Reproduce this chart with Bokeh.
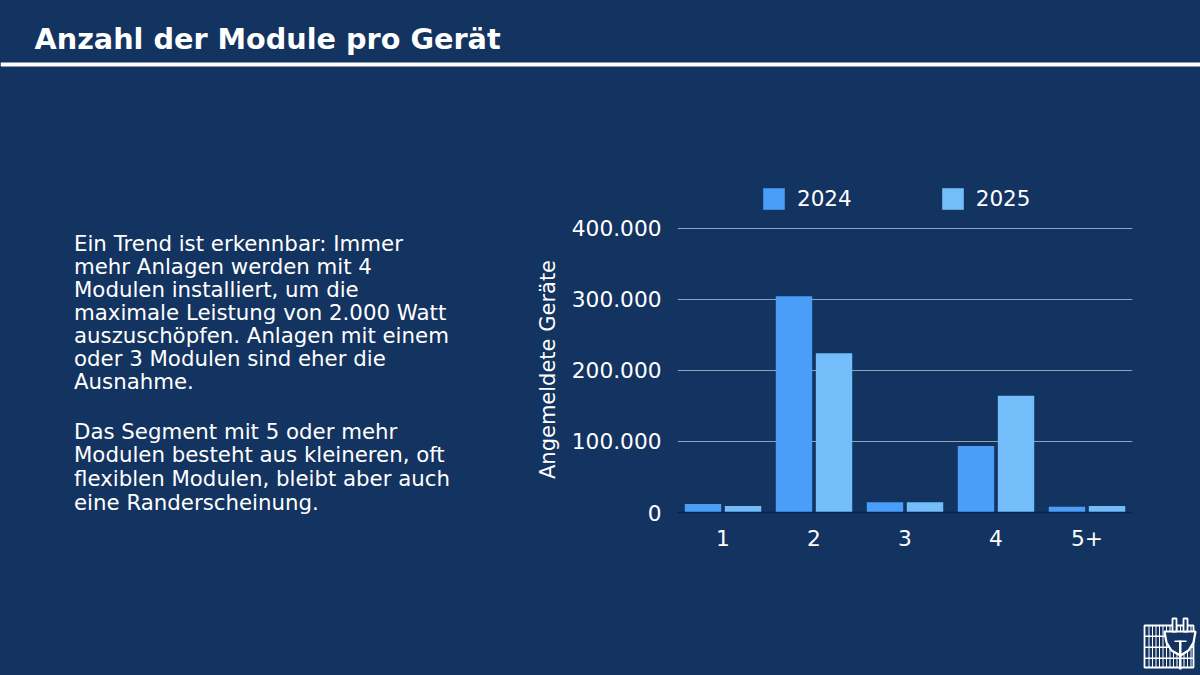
from bokeh.embed import file_html
from bokeh.resources import INLINE
from bokeh.plotting import figure
from bokeh.layouts import column, row
from bokeh.models import (ColumnDataSource, FactorRange, Range1d, Label, BoxAnnotation, PolyAnnotation,
                          Legend, LegendItem, FixedTicker, GlobalInlineStyleSheet)
from bokeh.transform import dodge
import math

categories = ["1", "2", "3", "4", "5+"]
values_2024 = [12000, 304000, 14500, 93500, 8000]
values_2025 = [9000, 224000, 14500, 164000, 9000]
y_ticks = [0, 100000, 200000, 300000, 400000]
y_tick_labels = ["0", "100.000", "200.000", "300.000", "400.000"]
title_text = "Anzahl der Module pro Gerät"
y_title = "Angemeldete Geräte"
para_lines = [
    "Ein Trend ist erkennbar: Immer", "mehr Anlagen werden mit 4", "Modulen installiert, um die",
    "maximale Leistung von 2.000 Watt", "auszuschöpfen. Anlagen mit einem", "oder 3 Modulen sind eher die",
    "Ausnahme.",
]
para2_lines = [
    "Das Segment mit 5 oder mehr", "Modulen besteht aus kleineren, oft",
    "flexiblen Modulen, bleibt aber auch", "eine Randerscheinung.",
]

BG = "#133360"
C24 = "#4a9ef8"
C25 = "#74bdfb"
FONT = "DejaVu Sans"
W, H = 1200, 675
HEAD = 70      # header strip height
FOOT = 65      # footer strip height
LEFT = 560     # text column width
MID = H - HEAD - FOOT
TOP_PX = 180   # top of the chart frame, which reaches up to the legend
BASE_PX = 512  # bottom of the chart frame
CSS = f"html,body{{margin:0;padding:0;background:{BG};overflow:hidden}}"


def panel(w, h, y0, y1):
    """A blank strip; data y is the picture's y between y0 and y1."""
    f = figure(width=w, height=h, output_backend="svg", toolbar_location=None,
               x_range=Range1d(0, w), y_range=Range1d(y1, y0),
               min_border=0, background_fill_color=BG, border_fill_color=BG, outline_line_color=None)
    f.axis.visible = False
    f.grid.visible = False
    return f


def text(f, t, x, y, size="21.3px", style="normal", angle=0.0, align="left"):
    f.add_layout(Label(x=x, y=y, text=t, text_color="white", text_font=FONT, text_font_size=size,
                       text_font_style=style, text_baseline="middle", text_align=align, angle=angle))


# header
head = panel(W, HEAD, 0, HEAD)
text(head, title_text, 34, 38, "28.7px", "bold")
head.add_layout(BoxAnnotation(left=0, right=W, top=62, bottom=66, fill_color="white", fill_alpha=1, line_color=None))

# left text, in its own column so that its frame keeps its full height
left = panel(LEFT, MID, HEAD, HEAD + MID)
for i, t in enumerate(para_lines):
    text(left, t, 73.5, 242.5 + i * 23)
for i, t in enumerate(para2_lines):
    text(left, t, 73.5, 430.5 + i * 23.7)
text(left, y_title, 547.5, 369, "21px", angle=math.pi / 2, align="center")

# chart
p = figure(width=W - LEFT, height=MID, output_backend="svg", toolbar_location=None,
           x_range=FactorRange(factors=categories, range_padding=0, factor_padding=0),
           y_range=Range1d(0, (BASE_PX - TOP_PX) * 1406),
           min_border_left=677 - LEFT, min_border_right=W - 1132, min_border_top=TOP_PX - HEAD,
           min_border_bottom=HEAD + MID - BASE_PX,
           background_fill_color=BG, border_fill_color=BG, outline_line_color=None)
src = ColumnDataSource(dict(cat=categories, a=values_2024, b=values_2025))
r1 = p.vbar(x=dodge("cat", -0.22, range=p.x_range), top="a", width=0.4, source=src, fill_color=C24, line_color=None)
r2 = p.vbar(x=dodge("cat", 0.22, range=p.x_range), top="b", width=0.4, source=src, fill_color=C25, line_color=None)
p.xgrid.visible = False
p.ygrid.grid_line_color = "#8fa3bd"
p.ygrid.grid_line_width = 1
p.yaxis.ticker = FixedTicker(ticks=y_ticks)
p.yaxis.major_label_overrides = dict(zip(y_ticks, y_tick_labels))
for ax in (p.xaxis[0], p.yaxis[0]):
    ax.major_tick_line_color = None
    ax.minor_tick_line_color = None
    ax.major_label_text_color = "white"
    ax.major_label_text_font = FONT
    ax.major_label_text_font_size = "21.7px"
p.yaxis.axis_line_color = None
p.xaxis.axis_line_color = "#0b2244"
p.xaxis.axis_line_width = 1.5
p.xaxis.major_label_standoff = 11
p.yaxis.major_label_standoff = 10
legend = Legend(items=[LegendItem(label="2024", renderers=[r1]), LegendItem(label="2025", renderers=[r2])],
                orientation="horizontal", location=(83, 300),
                background_fill_alpha=0, border_line_color=None,
                label_text_color="white", label_text_font=FONT, label_text_font_size="21.5px",
                glyph_width=27, glyph_height=27, spacing=87, padding=0, margin=0, label_standoff=10)
p.add_layout(legend, "center")

# footer with logo
foot = panel(W, FOOT, HEAD + MID, H)


def box(l, r, t, b, c="white"):
    foot.add_layout(BoxAnnotation(left=l, right=r, top=t, bottom=b, fill_color=c, fill_alpha=1, line_color=None))


def poly(xs, ys, fill=BG, line="white", w=1.6):
    foot.add_layout(PolyAnnotation(xs=xs, ys=ys, fill_color=fill, fill_alpha=1, line_color=line, line_width=w, line_alpha=1))


poly([1144, 1193, 1193, 1144], [625, 625, 667, 667], fill=BG, w=1.8)
for gx in (1148, 1151.5, 1155, 1158.5, 1162, 1165.5, 1169, 1172.5, 1176, 1179.5, 1183, 1186.5, 1190):
    box(gx, gx + 1, 625, 667)
for gy in (635, 646, 657):
    box(1144, 1193, gy, gy + 1.6)
poly([1164, 1195, 1193, 1188, 1180, 1171, 1166], [631, 631, 642, 650, 655, 650, 642], fill=BG, w=2.2)
poly([1172, 1176, 1176, 1172], [618, 618, 631, 631], fill=BG, w=1.8)
poly([1183, 1187, 1187, 1183], [618, 618, 631, 631], fill=BG, w=1.8)
box(1178.5, 1181, 640, 669)
box(1174, 1186, 640, 641.5)

page = column(head, row(column(left), p, spacing=0), foot, spacing=0)
page.stylesheets = [GlobalInlineStyleSheet(css=CSS)]
open("out.html", "w").write(file_html(page, INLINE))
